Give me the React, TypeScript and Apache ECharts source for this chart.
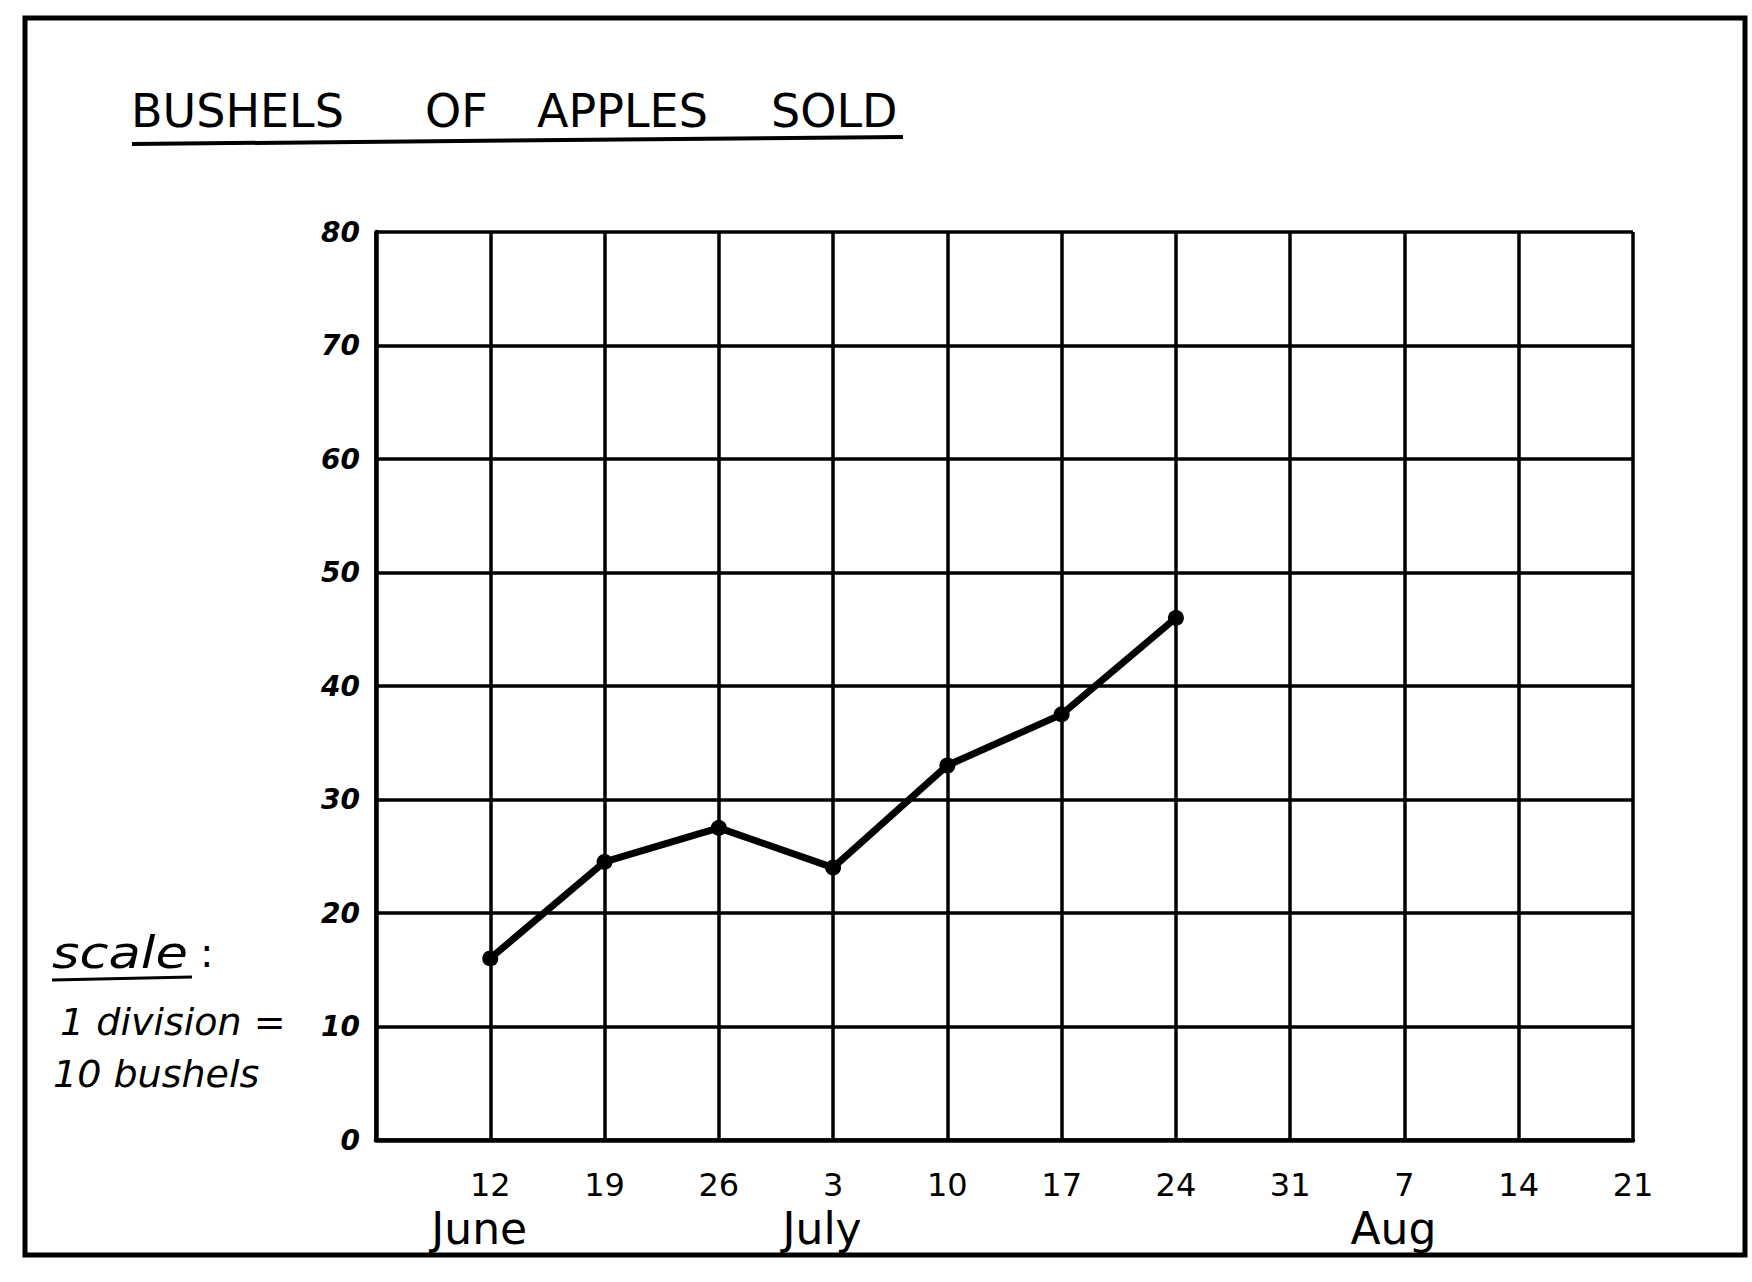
import React, { useEffect, useRef } from "react";
import * as echarts from "echarts";

// ---- data ----
const weekLabels = ["", "12", "19", "26", "3", "10", "17", "24", "31", "7", "14", "21"];
const monthLabels = ["", "June", "", "", "July", "", "", "", "", "Aug", "", ""];
const bushelsSold: (number | null)[] = [null, 16, 24.5, 27.5, 24, 33, 37.5, 46];
const yMin = 0;
const yMax = 80;
const yStep = 10;
const titleWords = ["BUSHELS", "OF", "APPLES", "SOLD"];
const scaleNote = ["scale", ":", "1 division =", "10 bushels"];

const FONT = "DejaVu Sans";

export default function App() {
  const ref = useRef<HTMLDivElement>(null);

  useEffect(() => {
    if (!ref.current) return;
    const chart = echarts.init(ref.current, null, { renderer: "svg" });
    const titleX = [131, 425, 537, 771];

    const option: any = {
      animation: false,
      backgroundColor: "#ffffff",
      grid: { left: 376, top: 232, right: 119, bottom: 142, containLabel: false },
      xAxis: {
        type: "category",
        data: weekLabels,
        boundaryGap: false,
        axisLine: { show: true, lineStyle: { color: "#000", width: 4.5 } },
        axisTick: { show: false },
        splitLine: { show: true, lineStyle: { color: "#000", width: 3.5 } },
        axisLabel: {
          interval: 0,
          margin: 25,
          color: "#000",
          fontFamily: FONT,
          formatter: (value: string, index: number) => {
            if (!value) return "";
            const m = monthLabels[index];
            return m ? `{d|${value}}\n{m|${m}}` : `{d|${value}}`;
          },
          rich: {
            d: { fontSize: 32, lineHeight: 40, fontFamily: FONT, color: "#000" },
            m: { fontSize: 44, lineHeight: 46, fontFamily: FONT, color: "#000", padding: [0, 22, 0, 0] },
          },
        },
      },
      yAxis: {
        type: "value",
        min: yMin,
        max: yMax,
        interval: yStep,
        axisLine: { show: true, lineStyle: { color: "#000", width: 4.5 } },
        axisTick: { show: false },
        splitLine: { show: true, lineStyle: { color: "#000", width: 3.5 } },
        axisLabel: {
          margin: 16,
          color: "#000",
          fontSize: 28,
          fontStyle: "italic",
          fontWeight: "bold",
          fontFamily: FONT,
        },
      },
      series: [
        {
          type: "line",
          data: bushelsSold,
          connectNulls: false,
          symbol: "circle",
          symbolSize: 16,
          lineStyle: { color: "#000", width: 7 },
          itemStyle: { color: "#000" },
          z: 5,
        },
      ],
      graphic: [
        {
          type: "rect",
          shape: { x: 25, y: 18, width: 1720, height: 1237 },
          style: { fill: "none", stroke: "#000", lineWidth: 5 },
          z: 0,
        },
        ...titleWords.map((w, i) => ({
          type: "text",
          x: titleX[i],
          y: 111,
          style: {
            text: w,
            fontSize: 46,
            fontFamily: FONT,
            fill: "#000",
            verticalAlign: "middle",
            align: "left",
          },
        })),
        {
          type: "line",
          shape: { x1: 132, y1: 144, x2: 903, y2: 137 },
          style: { stroke: "#000", lineWidth: 4 },
        },
        {
          type: "text",
          x: 52,
          y: 953,
          scaleX: 1.2,
          style: {
            text: scaleNote[0],
            fontSize: 44,
            fontStyle: "italic",
            fontFamily: FONT,
            fill: "#000",
            verticalAlign: "middle",
          },
        },
        {
          type: "text",
          x: 200,
          y: 953,
          style: {
            text: scaleNote[1],
            fontSize: 40,
            fontFamily: FONT,
            fill: "#000",
            verticalAlign: "middle",
          },
        },
        {
          type: "line",
          shape: { x1: 52, y1: 980, x2: 192, y2: 977 },
          style: { stroke: "#000", lineWidth: 3 },
        },
        {
          type: "text",
          x: 60,
          y: 1022,
          style: {
            text: scaleNote[2],
            fontSize: 38,
            fontStyle: "italic",
            fontFamily: FONT,
            fill: "#000",
            verticalAlign: "middle",
          },
        },
        {
          type: "text",
          x: 53,
          y: 1074,
          style: {
            text: scaleNote[3],
            fontSize: 38,
            fontStyle: "italic",
            fontFamily: FONT,
            fill: "#000",
            verticalAlign: "middle",
          },
        },
      ],
    };

    chart.setOption(option);
    return () => chart.dispose();
  }, []);

  return (
    <div
      ref={ref}
      style={{ position: "absolute", left: 0, top: 0, width: 1752, height: 1282, background: "#fff" }}
    />
  );
}
